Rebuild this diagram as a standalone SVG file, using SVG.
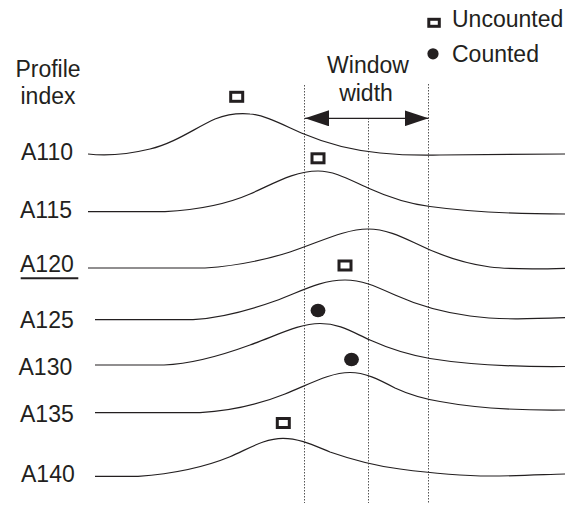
<svg xmlns="http://www.w3.org/2000/svg" width="580" height="505" viewBox="0 0 580 505">
  <style>
    text { font-family: "Liberation Sans", Arial, sans-serif; font-size: 23px; fill: #231f20; }
    .mid { text-anchor: middle; }
    .profile { fill: none; stroke: #231f20; stroke-width: 1.2; }
    .guide { fill: none; stroke: #555; stroke-width: 1; stroke-dasharray: 1.5 1.5; }
    .open { fill: #fff; stroke: #231f20; stroke-width: 3; }
    .filled { fill: #231f20; }
  </style>
  <defs>
    <marker id="head" viewBox="0 0 24 16" refX="24" refY="8" markerWidth="24" markerHeight="16" markerUnits="userSpaceOnUse" orient="auto-start-reverse">
      <path d="M0,0 L24,8 L0,16 Z" fill="#231f20"/>
    </marker>
  </defs>

  <rect width="580" height="505" fill="#fff"/>

  <!-- legend -->
  <g id="legend">
    <rect class="open" x="428.8" y="19.3" width="10.5" height="7" stroke-width="2.5"/>
    <text x="452" y="27">Uncounted</text>
    <circle class="filled" cx="433" cy="53.8" r="5.6"/>
    <text x="452" y="62">Counted</text>
  </g>

  <!-- column heading -->
  <g id="heading">
    <text class="mid" x="48" y="77">Profile</text>
    <text class="mid" x="48" y="104">index</text>
  </g>

  <!-- window guides and width arrow -->
  <g id="connectors">
    <line class="guide" x1="304.5" y1="85" x2="304.5" y2="503"/>
    <line class="guide" x1="368.5" y1="118" x2="368.5" y2="503"/>
    <line class="guide" x1="428.5" y1="84" x2="428.5" y2="503"/>
    <line x1="305" y1="118.3" x2="428.5" y2="118.3" stroke="#231f20" stroke-width="1.3" marker-start="url(#head)" marker-end="url(#head)"/>
  </g>
  <g id="window-label">
    <text class="mid" x="368" y="72.7">Window</text>
    <text class="mid" x="366" y="101">width</text>
  </g>

  <!-- profiles -->
  <g id="A110">
    <text x="21" y="160">A110</text>
    <path class="profile" d="M88,154 C105,156 125,155 150,149 C175,143 195,128 215,119 C228,114 240,113 250,114 C265,115 285,126 304,134 C325,143 350,150 380,153 C400,155 420,155.5 440,155 L565,154"/>
  </g>
  <g id="A115">
    <text x="20" y="218.3">A115</text>
    <path class="profile" d="M88,211.7 L165,211.7 C195,210 225,205 250,194 C275,183 295,171 318,171 C335,171 350,180 368,188 C390,198 410,204 430,206.5 C470,212 510,214 565,214"/>
  </g>
  <g id="A120">
    <text x="20" y="271.7">A120</text>
    <line x1="20.7" y1="278.3" x2="78.3" y2="278.3" stroke="#231f20" stroke-width="2"/>
    <path class="profile" d="M88,268 L205,268 C235,266 265,260 290,252 C320,242 345,229 368,229 C385,229 400,236 415,243 C435,253 460,263 490,267 C510,269.5 540,269 565,268.3"/>
  </g>
  <g id="A125">
    <text x="20" y="328.3">A125</text>
    <path class="profile" d="M95,319.7 L193,319.7 C220,318 250,310 275,301 C300,292 320,280 345,280 C362,280 375,286 395,295 C415,304 440,312 470,316 C500,320 530,319 565,317.7"/>
  </g>
  <g id="A130">
    <text x="18.5" y="375">A130</text>
    <path class="profile" d="M95,365 L164,365 C190,364 220,356 250,345 C280,334 300,323.5 320,323.5 C340,323.5 352,332 370,340 C390,349 410,355 430,358.5 C470,365 510,367 565,366.5"/>
  </g>
  <g id="A135">
    <text x="20" y="421.7">A135</text>
    <path class="profile" d="M95,412.7 L200,412.7 C230,411 260,404 285,394 C310,384 330,372.5 350,372.5 C365,372.5 378,379 395,388 C410,395 425,399 440,401.5 C480,409 520,410.5 565,410"/>
  </g>
  <g id="A140">
    <text x="21" y="481.7">A140</text>
    <path class="profile" d="M95,476.3 L138,476.3 C170,474 205,467 230,456.7 C250,448 265,438.3 283,438.3 C300,438.3 315,446 330,452 C350,459 375,466 400,469 C430,473 460,476 490,476 C520,476 545,474.5 565,474"/>
  </g>

  <!-- peak markers -->
  <g id="markers">
    <rect class="open" x="230.7" y="92.3" width="12" height="9"/>
    <rect class="open" x="312" y="153.8" width="12" height="9"/>
    <rect class="open" x="339" y="261" width="12" height="9"/>
    <rect class="open" x="277.3" y="418.5" width="12" height="9"/>
    <ellipse class="filled" cx="318" cy="310.5" rx="7.4" ry="6.8"/>
    <ellipse class="filled" cx="351.5" cy="359.5" rx="7.4" ry="6.8"/>
  </g>
</svg>
